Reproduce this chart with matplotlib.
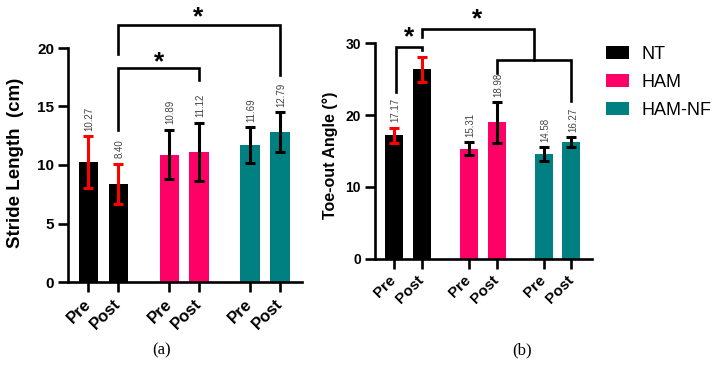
import matplotlib
matplotlib.use('Agg')
import matplotlib.pyplot as plt
from matplotlib.patches import Patch

plt.rcParams['font.family'] = ['Liberation Sans', 'DejaVu Sans']

# Data
groups = ['NT', 'HAM', 'HAM-NF']
tick_labels = ['Pre', 'Post', 'Pre', 'Post', 'Pre', 'Post']
stride_mean = [10.27, 8.40, 10.89, 11.12, 11.69, 12.79]
stride_sd = [2.2, 1.7, 2.1, 2.5, 1.55, 1.7]
stride_labels = ['10.27', '8.40', '10.89', '11.12', '11.69', '12.79']
toe_mean = [17.17, 26.4, 15.31, 18.98, 14.58, 16.27]
toe_sd = [1.1, 1.75, 0.9, 2.8, 0.95, 0.65]
toe_labels = ['17.17', '', '15.31', '18.98', '14.58', '16.27']

PINK = '#ff0066'
TEAL = '#008080'
group_colors = ['black', PINK, TEAL]
bar_colors = ['black', 'black', PINK, PINK, TEAL, TEAL]
err_colors = ['red', 'red', 'black', 'black', 'black', 'black']
xpos = [0, 1, 2.7, 3.7, 5.4, 6.4]


def draw_bars(ax, means, sds, labels, ymax, yticks, tick_fs):
    ax.bar(xpos, means, width=0.65, color=bar_colors, zorder=2)
    for x, m, s, c, lab in zip(xpos, means, sds, err_colors, labels):
        ax.errorbar(x, m, yerr=s, fmt='none', ecolor=c, elinewidth=2.2,
                    capsize=3.5, capthick=2.2, zorder=3)
        if lab:
            ax.annotate(lab, (x, m + s), xytext=(1, 4), textcoords='offset points',
                        rotation=90, ha='center', va='bottom', fontsize=7,
                        color='#444444')
    ax.set_xlim(-0.68, 7.13)
    ax.set_ylim(0, ymax)
    ax.set_yticks(yticks)
    ax.set_xticks(xpos)
    ax.set_xticklabels(tick_labels, rotation=45, ha='right', va='center',
                       rotation_mode='anchor', fontweight='bold', fontsize=tick_fs + 1)
    for lab in ax.get_yticklabels():
        lab.set_fontweight('bold')
        lab.set_fontsize(tick_fs)
    ax.spines['top'].set_visible(False)
    ax.spines['right'].set_visible(False)
    for sp in ['left', 'bottom']:
        ax.spines[sp].set_linewidth(1.9)
    ax.tick_params(width=1.9, length=7, pad=3)
    ax.tick_params(axis='x', pad=7)


def bracket(ax, x1, x2, y_top, y1_low, y2_low):
    ax.plot([x1, x1, x2, x2], [y1_low, y_top, y_top, y2_low], color='black',
            lw=1.9, clip_on=False, solid_joinstyle='miter', zorder=4)


def star(ax, x, y, fs=19):
    ax.text(x, y, '*', ha='center', va='center', fontsize=fs, fontweight='bold',
            clip_on=False)


fig = plt.figure(figsize=(7.13, 3.77), dpi=100)

# (a) stride length
ax1 = fig.add_axes([68 / 713, 1 - 282 / 377, 234 / 713, 234 / 377])
draw_bars(ax1, stride_mean, stride_sd, stride_labels, 20, [0, 5, 10, 15, 20], 11)
ax1.set_ylabel('Stride Length  (cm)', fontsize=13.5, fontweight='bold')
ax1.yaxis.set_label_coords(-0.19, 0.507)
bracket(ax1, 1, 3.7, 18.25, 12.97, 17.3)
bracket(ax1, 1, 6.4, 22.0, 19.45, 17.7)
star(ax1, 2.35, 18.8)
star(ax1, 3.65, 22.6)

# (b) toe-out angle
ax2 = fig.add_axes([375 / 713, 1 - 258.7 / 377, 216.7 / 713, 215.4 / 377])
draw_bars(ax2, toe_mean, toe_sd, toe_labels, 30, [0, 10, 20, 30], 10)
ax2.set_ylabel('Toe-out Angle (°)', fontsize=11.5, fontweight='bold')
ax2.yaxis.set_label_coords(-0.17, 0.48)
bracket(ax2, 0.08, 1.02, 29.5, 23.2, 29.0)
bracket(ax2, 3.7, 6.4, 27.7, 25.9, 21.9)
bracket(ax2, 1, 5.05, 31.95, 30.9, 27.7)
star(ax2, 0.54, 30.9)
star(ax2, 3.0, 33.3)

handles = [Patch(facecolor=c, edgecolor='none') for c in group_colors]
fig.legend(handles, groups, loc='upper left', bbox_to_anchor=(606 / 713, 1 - 46 / 377),
           frameon=False, fontsize=13, handlelength=1.3, handleheight=0.7,
           handletextpad=0.65, labelspacing=0.6, borderpad=0, borderaxespad=0)

fig.text(162 / 713, 1 - 350 / 377, '(a)', family='Liberation Serif', fontsize=12,
         ha='center', va='center')
fig.text(522 / 713, 1 - 350 / 377, '(b)', family='Liberation Serif', fontsize=12,
         ha='center', va='center')

fig.savefig('out.png', dpi=100)
